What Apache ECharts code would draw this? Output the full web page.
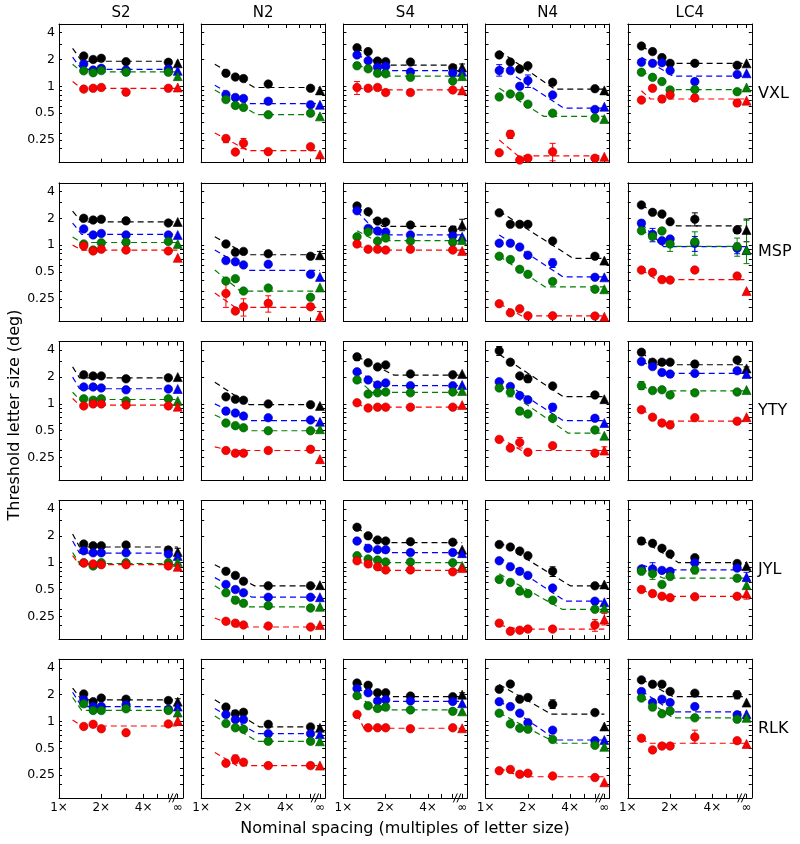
<!DOCTYPE html>
<html><head><meta charset="utf-8">
<script src="https://cdn.jsdelivr.net/npm/echarts@6/dist/echarts.min.js"></script>
<style>html,body{margin:0;padding:0;background:#fff}#c{width:800px;height:844px}</style>
</head><body><div id="c"></div>
<script>
// ---------------- DATA ----------------
const subjects = ['VXL', 'MSP', 'YTY', 'JYL', 'RLK'];
const conditions = ['S2', 'N2', 'S4', 'N4', 'LC4'];
const spacings = [1.25, 1.5, 1.75, 2, 3, 6];   // nominal spacing; last column of each row = ∞
const INF_X = 7;                               // where ∞ sits on the spacing axis
const xTickValues = [2, 3, 4, 5, 6, INF_X];
const xLabelValues = [1, 2, 4, INF_X];
const yLabelValues = [0.25, 0.5, 1, 2, 4];
const yTickValues = [0.2, 0.25, 0.3, 0.4, 0.5, 0.6, 0.7, 0.8, 0.9, 1, 2, 3, 4];
const seriesNames = ['black', 'blue', 'green', 'red'];

// rows: S2, N2, S4, N4, LC4 ; columns: 1.25, 1.5, 1.75, 2, 3, 6, ∞
const blackVXL = [[null,2.19,2.0,2.06,1.89,1.86,1.81],[null,1.4,1.27,1.22,1.06,0.95,0.9],[2.71,2.45,1.92,1.89,1.87,1.62,1.63],[2.25,1.87,1.56,1.7,1.11,0.94,0.9],[2.83,2.45,2.1,1.81,1.81,1.72,1.81]];
const blueVXL  = [[null,1.78,1.52,1.59,1.52,1.56,1.49],[null,0.81,0.75,0.73,0.68,0.62,0.62],[2.25,1.94,1.64,1.68,1.45,1.41,1.46],[1.5,1.5,1.0,1.16,0.8,0.55,0.59],[1.86,1.81,1.84,1.5,1.13,1.36,1.4]];
const greenVXL = [[null,1.49,1.42,1.5,1.44,1.44,1.3],[null,0.71,0.61,0.58,0.48,0.5,0.46],[1.7,1.57,1.4,1.38,1.26,1.15,1.3],[0.76,0.82,0.78,0.63,0.5,0.44,0.43],[1.44,1.26,1.13,0.91,0.92,0.87,0.97]];
const redVXL   = [[null,0.93,0.95,0.97,0.86,0.95,0.97],[null,0.26,0.183,0.23,0.185,0.21,0.172],[0.97,0.95,0.97,0.85,0.85,0.91,0.9],[0.18,0.29,0.149,0.156,0.184,0.156,0.162],[0.7,0.95,0.72,0.8,0.74,0.65,0.69]];

const blackMSP = [[null,2.0,1.91,1.95,1.87,1.77,1.82],[null,1.03,0.83,0.85,0.8,0.75,0.77],[2.75,2.37,1.86,1.82,1.68,1.48,1.68],[2.3,1.71,1.71,1.71,1.11,0.75,0.67],[2.82,2.33,2.23,1.83,1.95,1.48,1.48]];
const blueMSP  = [[null,1.52,1.3,1.35,1.3,1.3,1.3],[null,0.67,0.65,0.6,0.61,0.47,0.44],[2.43,1.54,1.44,1.4,1.3,1.27,1.24],[1.05,1.05,0.95,0.77,0.63,0.435,0.435],[1.76,1.32,1.12,1.17,1.05,0.92,0.88]];
const greenMSP = [[null,1.03,0.88,1.06,1.08,1.1,1.03],[null,0.395,0.42,0.305,0.33,0.26,0.335],[1.24,1.41,1.11,1.2,1.11,1.08,1.14],[0.75,0.69,0.535,0.47,0.39,0.32,0.32],[1.45,1.25,1.44,1.03,1.09,0.96,0.88]];
const redMSP   = [[null,0.98,0.86,0.9,0.88,0.86,0.72],[null,0.287,0.182,0.203,0.222,0.203,0.161],[1.03,0.9,0.9,0.88,0.9,0.88,0.86],[0.22,0.174,0.193,0.161,0.161,0.16,0.157],[0.525,0.495,0.41,0.405,0.525,0.45,0.305]];

const blackYTY = [[null,2.12,2.06,2.06,1.91,1.96,2.0],[null,1.2,1.13,1.1,1.0,0.98,0.95],[3.37,2.89,2.6,2.74,2.17,2.12,2.17],[3.94,2.94,2.06,1.91,1.59,1.26,1.13],[3.8,2.94,2.94,2.94,2.8,3.1,2.5]];
const blueYTY  = [[null,1.55,1.55,1.51,1.44,1.47,1.47],[null,0.83,0.79,0.73,0.7,0.66,0.63],[2.29,1.86,1.63,1.72,1.6,1.6,1.63],[1.77,1.57,1.24,1.11,0.92,0.69,0.61],[2.99,2.62,2.25,2.16,2.2,2.35,2.17]];
const greenYTY = [[null,1.14,1.1,1.14,1.08,1.14,1.08],[null,0.61,0.57,0.54,0.5,0.5,0.52],[1.86,1.29,1.33,1.36,1.33,1.36,1.4],[1.51,1.35,0.83,0.77,0.69,0.51,0.44],[1.6,1.41,1.44,1.26,1.33,1.36,1.43]];
const redYTY   = [[null,0.95,1.0,1.0,0.97,0.95,0.93],[null,0.3,0.28,0.28,0.3,0.31,0.24],[1.03,0.9,0.92,0.92,0.92,0.92,0.97],[0.4,0.32,0.37,0.287,0.34,0.28,0.3],[0.86,0.71,0.61,0.58,0.7,0.64,0.71]];

const blackJYL = [[null,1.62,1.55,1.55,1.58,1.39,1.32],[null,0.8,0.72,0.62,0.55,0.55,0.56],[2.5,2.0,1.8,1.75,1.72,1.7,1.4],[1.6,1.5,1.35,1.2,0.8,0.55,0.57],[1.75,1.65,1.45,1.25,1.14,0.98,0.92]];
const blueJYL  = [[null,1.36,1.29,1.29,1.29,1.25,1.19],[null,0.57,0.5,0.46,0.41,0.41,0.41],[1.75,1.45,1.4,1.4,1.3,1.3,1.28],[1.05,0.9,0.8,0.72,0.52,0.37,0.36],[0.85,0.85,0.82,0.8,1.0,0.87,0.69]];
const greenJYL = [[null,1.0,0.92,1.0,1.0,1.0,1.02],[null,0.46,0.38,0.35,0.33,0.31,0.32],[1.2,1.1,1.07,1.02,1.02,1.0,0.92],[0.65,0.6,0.48,0.45,0.38,0.3,0.31],[0.8,0.75,0.57,0.7,0.83,0.67,0.56]];
const redJYL   = [[null,0.99,0.97,0.95,0.95,0.92,0.9],[null,0.22,0.21,0.2,0.195,0.19,0.2],[1.05,0.97,0.9,0.83,0.83,0.79,0.87],[0.21,0.17,0.175,0.18,0.18,0.2,0.23],[0.5,0.45,0.42,0.405,0.415,0.42,0.45]];

const blackRLK = [[null,2.04,1.67,1.83,1.78,1.72,1.67],[null,1.45,1.22,1.27,0.93,0.87,0.85],[2.7,2.55,2.1,2.1,1.93,1.9,2.0],[2.3,2.63,1.78,1.86,1.56,1.26,0.88],[2.93,2.62,2.62,2.17,2.08,1.99,1.63]];
const blueRLK  = [[null,1.75,1.47,1.47,1.54,1.37,1.47],[null,1.2,1.05,1.05,0.73,0.73,0.72],[2.35,2.1,1.7,1.75,1.7,1.68,1.6],[1.67,1.47,1.24,0.97,0.8,0.61,0.62],[2.17,1.63,1.78,1.63,1.47,1.19,1.21]];
const greenRLK = [[null,1.58,1.33,1.33,1.39,1.33,1.26],[null,0.95,0.85,0.82,0.6,0.6,0.6],[1.95,1.5,1.4,1.45,1.35,1.3,1.3],[1.24,0.94,0.84,0.82,0.63,0.54,0.52],[1.83,1.45,1.22,1.31,1.1,1.06,1.1]];
const redRLK   = [[null,0.88,0.93,0.83,0.75,0.94,1.02],[null,0.34,0.38,0.35,0.32,0.32,0.32],[1.2,0.85,0.85,0.85,0.83,0.85,0.84],[0.28,0.29,0.256,0.263,0.245,0.235,0.208],[0.65,0.48,0.53,0.53,0.67,0.61,0.56]];

// fitted curves: per condition, per colour [value at 1.25, critical spacing, plateau value]
const fitVXL = [[[2.67,1.45,1.91],[2.12,1.45,1.55],[1.77,1.45,1.45],[1.13,1.45,0.95]],[[1.77,2.4,0.97],[1.03,2.1,0.64],[0.91,2.5,0.48],[0.30,2.15,0.19]],[[2.75,1.8,1.73],[2.3,1.9,1.5],[1.75,2.0,1.3],[0.97,1.5,0.91]],[[2.5,3.1,0.93],[1.7,3.6,0.57],[0.95,2.6,0.46],[0.25,1.7,0.166]],[[2.83,2.0,1.81],[2.12,2.1,1.3],[1.5,2.0,0.92],[0.89,1.45,0.72]]];
const fitMSP = [[[2.4,1.45,1.82],[1.77,1.45,1.32],[1.23,1.45,1.07],[1.0,1.45,0.88]],[[1.24,2.14,0.78],[0.88,2.2,0.52],[0.525,1.9,0.305],[0.29,1.75,0.2]],[[2.7,1.9,1.62],[2.4,1.8,1.3],[1.45,1.7,1.12],[1.0,1.5,0.88]],[[2.4,4.2,0.71],[1.3,3.56,0.44],[0.75,2.64,0.34],[0.22,1.8,0.161]],[[2.82,2.23,1.64],[1.76,1.8,0.96],[1.5,1.8,0.97],[0.53,1.6,0.41]]];
const fitYTY = [[[2.6,1.4,1.96],[2.0,1.4,1.48],[1.35,1.4,1.12],[1.15,1.4,0.97]],[[1.75,2.2,0.98],[1.0,2.2,0.65],[0.75,2.2,0.5],[0.33,1.6,0.3]],[[3.4,2.3,2.1],[2.4,1.8,1.6],[1.9,1.6,1.35],[1.03,1.4,0.92]],[[3.6,3.56,1.21],[1.9,3.56,0.65],[1.6,3.87,0.47],[0.42,1.8,0.3]],[[3.8,1.6,2.75],[3.0,1.9,2.2],[1.6,1.5,1.4],[0.87,1.7,0.64]]];
const fitJYL = [[[2.1,1.4,1.5],[1.75,1.4,1.28],[1.3,1.4,0.98],[1.2,1.4,0.95]],[[0.95,2.4,0.55],[0.68,2.3,0.41],[0.55,2.2,0.32],[0.24,1.8,0.19]],[[2.5,1.7,1.68],[1.9,1.7,1.3],[1.25,1.7,1.0],[1.05,1.8,0.82]],[[1.7,4.0,0.55],[1.15,3.7,0.37],[0.75,3.5,0.3],[0.2,1.7,0.18]],[[1.8,2.3,1.0],[0.95,1.6,0.83],[0.85,1.8,0.67],[0.5,1.6,0.42]]];
const fitRLK = [[[2.37,1.45,1.75],[2.13,1.45,1.47],[1.86,1.45,1.33],[1.04,1.45,0.89]],[[1.75,2.6,0.87],[1.4,2.5,0.73],[1.15,2.5,0.6],[0.45,1.8,0.32]],[[2.8,1.9,1.9],[2.4,1.8,1.68],[2.0,1.7,1.35],[1.2,1.4,0.84]],[[2.6,2.93,1.21],[1.7,3.2,0.62],[1.25,3.2,0.57],[0.3,1.8,0.24]],[[3.0,2.1,1.9],[2.2,2.1,1.28],[1.9,2.1,1.1],[0.65,1.4,0.57]]];

// error bars: [condition index, colour index, spacing column, low, high]
const errVXL = [[1,3,1,0.233,0.28],[1,3,3,0.2,0.26],[2,2,0,1.58,1.85],[2,3,0,0.81,1.13],[2,0,6,1.5,1.78],[3,1,0,1.3,1.75],[3,1,3,0.97,1.34],[3,3,1,0.26,0.32],[3,3,4,0.146,0.229],[4,3,2,0.66,0.78],[4,3,4,0.68,0.8],[4,3,5,0.6,0.71],[4,1,4,1.05,1.22]];
const errMSP = [[1,0,6,0.7,0.85],[1,3,1,0.2,0.39],[1,3,3,0.16,0.25],[1,3,4,0.177,0.27],[1,3,5,0.19,0.22],[1,3,6,0.14,0.18],[2,0,6,1.45,1.95],[3,1,4,0.56,0.7],[4,0,4,1.64,2.3],[4,0,5,1.35,1.6],[4,0,6,1.09,1.96],[4,1,0,1.6,1.9],[4,1,1,1.09,1.54],[4,2,3,0.85,1.25],[4,2,4,0.77,1.41],[4,2,5,0.75,1.2],[4,2,6,0.62,1.9],[4,1,4,0.85,1.25],[4,1,5,0.8,1.05]];
const errYTY = [[2,0,0,3.1,3.6],[3,0,0,3.5,4.4],[3,0,3,1.75,2.1],[3,1,4,0.83,1.0],[3,2,1,1.2,1.45],[3,3,2,0.32,0.42],[3,3,6,0.27,0.33],[4,0,4,2.55,3.0],[4,2,0,1.45,1.78],[4,1,3,2.0,2.3],[4,0,6,2.3,2.6]];
const errJYL = [[0,0,6,1.2,1.45],[3,0,4,0.7,0.9],[3,3,5,0.17,0.23],[3,3,6,0.2,0.27],[4,0,0,1.6,1.9],[4,1,1,0.72,1.0],[4,2,1,0.65,0.85],[4,2,4,0.75,0.9],[4,3,6,0.39,0.52],[4,1,6,0.62,0.78]];
const errRLK = [[0,3,6,0.9,1.15],[0,0,6,1.55,1.8],[1,3,2,0.34,0.42],[1,0,6,0.78,0.9],[2,0,6,1.85,2.1],[3,0,4,1.4,1.75],[4,0,5,1.8,2.2],[4,3,4,0.57,0.8]];

const pointsBySubject = {
  VXL: [blackVXL, blueVXL, greenVXL, redVXL], MSP: [blackMSP, blueMSP, greenMSP, redMSP],
  YTY: [blackYTY, blueYTY, greenYTY, redYTY], JYL: [blackJYL, blueJYL, greenJYL, redJYL],
  RLK: [blackRLK, blueRLK, greenRLK, redRLK]
};
const fitsBySubject = {VXL: fitVXL, MSP: fitMSP, YTY: fitYTY, JYL: fitJYL, RLK: fitRLK};
const errsBySubject = {VXL: errVXL, MSP: errMSP, YTY: errYTY, JYL: errJYL, RLK: errRLK};

// ---------------- STYLE / LAYOUT ----------------
const COLORS = ['#000000', '#0000ff', '#008000', '#ff0000'];
const EDGES = ['#000000', '#0000a0', '#005000', '#b00000'];
const FONT = 'DejaVu Sans';
const L0 = 59, DX = 142.2, W = 124, T0 = 24, DY = 158.8, H = 138.7;
const YMIN = 0.139, YMAX = 5.0, XMIN = 1, XMAX = 7.63;

const xs = spacings.concat([INF_X]);
const chart = echarts.init(document.getElementById('c'), null, {renderer: 'canvas'});

const grids = [], xAxes = [], yAxes = [], series = [];
function axisBase(extra) {
  return Object.assign({
    axisLine: {show: true, onZero: false, lineStyle: {color: '#000', width: 1}},
    splitLine: {show: false}
  }, extra);
}
subjects.forEach((subj, r) => {
  conditions.forEach((cond, c) => {
    const g = grids.length;
    grids.push({left: L0 + c * DX, top: T0 + r * DY, width: W, height: H, show: false});
    const xCommon = {gridIndex: g, type: 'log', logBase: 2, min: XMIN, max: XMAX};
    const yCommon = {gridIndex: g, type: 'log', logBase: 2, min: YMIN, max: YMAX};
    xAxes.push(axisBase(Object.assign({}, xCommon, {
      position: 'bottom',
      axisTick: {show: true, inside: true, length: 4, customValues: xTickValues, lineStyle: {color: '#000'}},
      axisLabel: {show: r === subjects.length - 1, customValues: xLabelValues, margin: 4, color: '#000',
        fontSize: 12, fontFamily: FONT, formatter: v => (v === INF_X ? '∞' : v + '×')}
    })));
    xAxes.push(axisBase(Object.assign({}, xCommon, {
      position: 'top',
      axisTick: {show: true, inside: true, length: 4, customValues: xTickValues, lineStyle: {color: '#000'}},
      axisLabel: {show: false}
    })));
    yAxes.push(axisBase(Object.assign({}, yCommon, {
      position: 'left',
      axisTick: {show: true, inside: true, length: 3, customValues: yTickValues, lineStyle: {color: '#000'}},
      axisLabel: {show: c === 0, customValues: yLabelValues, margin: 4, color: '#000',
        fontSize: 12.5, fontFamily: FONT, formatter: v => String(v)}
    })));
    yAxes.push(axisBase(Object.assign({}, yCommon, {
      position: 'right',
      axisTick: {show: true, inside: true, length: 3, customValues: yTickValues, lineStyle: {color: '#000'}},
      axisLabel: {show: false}
    })));
    const xi = 2 * g, yi = 2 * g;
    const pts = pointsBySubject[subj];
    const fits = fitsBySubject[subj][c];
    fits.forEach((f, k) => {
      series.push({
        type: 'line', xAxisIndex: xi, yAxisIndex: yi, silent: true, showSymbol: false, z: 2,
        data: [[spacings[0], f[0]], [f[1], f[2]], [INF_X, f[2]]],
        lineStyle: {color: COLORS[k], width: 1.2, type: [6, 4]}
      });
    });
    const eb = errsBySubject[subj].filter(e => e[0] === c).map(e => [xs[e[2]], e[3], e[4], e[1]]);
    if (eb.length) {
      series.push({
        type: 'custom', xAxisIndex: xi, yAxisIndex: yi, silent: true, z: 3,
        dimensions: ['x', 'lo', 'hi', 'k'], encode: {x: 0, y: [1, 2]},
        data: eb,
        renderItem: (params, api) => {
          const x = api.value(0), k = api.value(3);
          const p1 = api.coord([x, api.value(1)]), p2 = api.coord([x, api.value(2)]);
          const st = {stroke: COLORS[k], lineWidth: 1};
          return {type: 'group', children: [
            {type: 'line', shape: {x1: p1[0], y1: p1[1], x2: p2[0], y2: p2[1]}, style: st},
            {type: 'line', shape: {x1: p1[0] - 3, y1: p1[1], x2: p1[0] + 3, y2: p1[1]}, style: st},
            {type: 'line', shape: {x1: p2[0] - 3, y1: p2[1], x2: p2[0] + 3, y2: p2[1]}, style: st}
          ]};
        }
      });
    }
    pts.forEach((arr, k) => {
      const data = [];
      arr[c].forEach((v, i) => { if (v != null) data.push([xs[i], v]); });
      series.push({
        type: 'scatter', xAxisIndex: xi, yAxisIndex: yi, silent: true, z: 4, name: seriesNames[k],
        data,
        symbol: v => (v[0] === INF_X ? 'triangle' : 'circle'),
        symbolSize: v => (v[0] === INF_X ? 9 : 8.5),
        itemStyle: {color: COLORS[k], borderColor: EDGES[k], borderWidth: 0.6, opacity: 1}
      });
    });
  });
});

const graphics = [];
conditions.forEach((cond, c) => {
  graphics.push({type: 'text', x: L0 + c * DX + W / 2, y: 13,
    style: {text: cond, font: '15px "' + FONT + '"', fill: '#000', textAlign: 'center', textVerticalAlign: 'middle'}});
});
subjects.forEach((s, r) => {
  graphics.push({type: 'text', x: 758, y: T0 + r * DY + H / 2,
    style: {text: s, font: '16px "' + FONT + '"', fill: '#000', textAlign: 'left', textVerticalAlign: 'middle'}});
});
graphics.push({type: 'text', x: 15, y: 415, rotation: Math.PI / 2,
  style: {text: 'Threshold letter size (deg)', font: '16px "' + FONT + '"', fill: '#000', textAlign: 'center', textVerticalAlign: 'middle'}});
graphics.push({type: 'text', x: 405, y: 829,
  style: {text: 'Nominal spacing (multiples of letter size)', font: '16px "' + FONT + '"', fill: '#000', textAlign: 'center', textVerticalAlign: 'middle'}});

chart.setOption({
  animation: false,
  backgroundColor: '#fff',
  grid: grids, xAxis: xAxes, yAxis: yAxes, series: series, graphic: graphics
});

// axis-break marks "//" near ∞ on the bottom row
const breaks = [];
conditions.forEach((cond, c) => {
  const g = (subjects.length - 1) * conditions.length + c;
  const px = chart.convertToPixel({xAxisIndex: 2 * g}, 6.45);
  const py = chart.convertToPixel({yAxisIndex: 2 * g}, YMIN);
  [-1.8, 1.8].forEach(dx => {
    breaks.push({type: 'line', shape: {x1: px + dx - 2, y1: py + 4.5, x2: px + dx + 2, y2: py - 4.5},
      style: {stroke: '#000', lineWidth: 1}, z: 10});
  });
});
chart.setOption({graphic: graphics.concat(breaks)});
</script></body></html>
